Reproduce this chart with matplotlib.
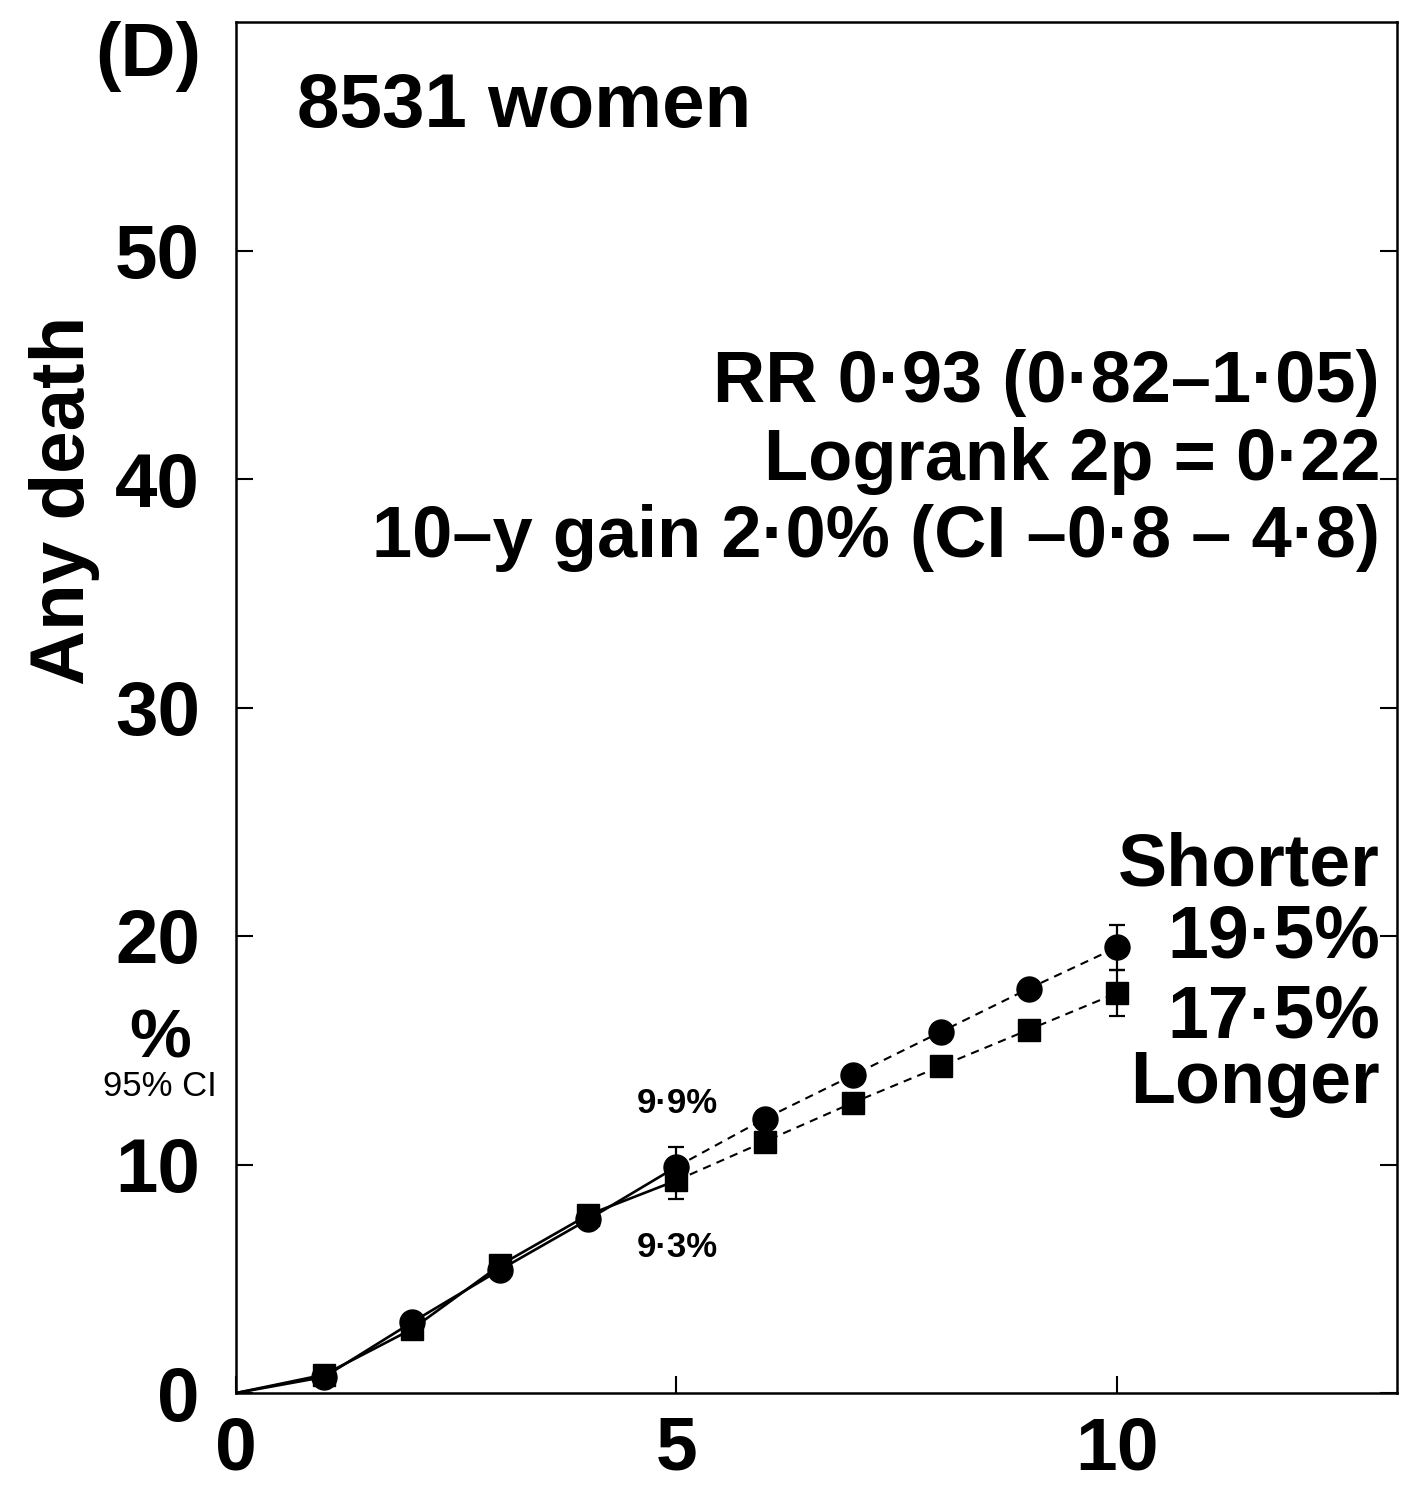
import matplotlib
matplotlib.use("Agg")
import matplotlib.pyplot as plt

plt.rcParams['font.family'] = ['Liberation Sans', 'DejaVu Sans']
plt.rcParams['font.weight'] = 'bold'

# Cumulative risk of any death (%) by year of follow-up
years = [0, 1, 2, 3, 4, 5, 6, 7, 8, 9, 10]
shorter = [0, 0.7, 3.1, 5.4, 7.6, 9.9, 12.0, 13.9, 15.8, 17.7, 19.5]
longer = [0, 0.8, 2.8, 5.6, 7.8, 9.3, 11.0, 12.7, 14.3, 15.9, 17.5]

# 95% CI half-widths shown at 5 and 10 years
ci_years = [5, 10]
shorter_ci = [0.85, 1.0]
longer_ci = [0.8, 1.0]

x_ticks = [0, 5, 10]
y_ticks = [0, 10, 20, 30, 40, 50]

W, H = 1426, 1487
fig = plt.figure(figsize=(W / 100, H / 100), dpi=100)
ax = fig.add_axes([236 / W, 1 - 1393 / H, (1397 - 236) / W, (1393 - 22) / H])
ax.set_xlim(0, 13.18)
ax.set_ylim(0, 60)

def draw_series(vals, marker, ms, ci):
    # solid over the first 5 years, dashed thereafter
    ax.plot(years[:6], vals[:6], color='black', lw=1.9, zorder=2)
    ax.plot(years[5:], vals[5:], color='black', lw=1.5, ls=(0, (4, 3)), zorder=2)
    ax.plot(years[1:], vals[1:], ls='none', marker=marker, ms=ms,
            color='black', zorder=3)
    ci_vals = [vals[years.index(y)] for y in ci_years]
    ax.errorbar(ci_years, ci_vals, yerr=ci, fmt='none', ecolor='black',
                elinewidth=1.6, capsize=6, capthick=1.6, zorder=2)

draw_series(longer, 's', 16.5, longer_ci)
draw_series(shorter, 'o', 18, shorter_ci)

for s in ax.spines.values():
    s.set_linewidth(1.8)

ax.set_xticks(x_ticks)
ax.set_yticks(y_ticks)
ax.tick_params(axis='both', direction='in', length=12, width=1.5,
               labelsize=55)
ax.tick_params(axis='y', right=True, pad=26)
ax.tick_params(axis='x', pad=16, labelsize=54)
for lab in ax.get_xticklabels() + ax.get_yticklabels():
    lab.set_fontweight('bold')

ax.set_ylabel('Any death', fontsize=55, fontweight='bold')
ax.yaxis.set_label_coords((100 - 236) / (1397 - 236), (1393 - 500) / (1393 - 22))

def fx(px):
    return px / W

def fy(py):
    return 1 - py / H

fig.text(fx(148), fy(57), '(D)', fontsize=55, fontweight='bold',
         ha='center', va='center')
fig.text(fx(297), fy(127), '8531 women', fontsize=55, fontweight='bold',
         ha='left', va='baseline')

stats = ['RR 0·93 (0·82–1·05)', 'Logrank 2p = 0·22',
         '10–y gain 2·0% (CI –0·8 – 4·8)']
for txt, py in zip(stats, [402, 480, 557]):
    fig.text(fx(1380), fy(py), txt, fontsize=52, fontweight='bold',
             ha='right', va='baseline')

ends = ['Shorter', '19·5%', '17·5%', 'Longer']
for txt, py in zip(ends, [885, 957, 1037, 1103]):
    fig.text(fx(1380), fy(py), txt, fontsize=53, fontweight='bold',
             ha='right', va='baseline')

fig.text(fx(677), fy(1113), '9·9%', fontsize=25, fontweight='bold',
         ha='center', va='baseline')
fig.text(fx(677), fy(1257), '9·3%', fontsize=25, fontweight='bold',
         ha='center', va='baseline')

fig.text(fx(160), fy(1058), '%', fontsize=50, fontweight='bold',
         ha='center', va='baseline')
fig.text(fx(160), fy(1096), '95% CI', fontsize=25, fontweight='normal',
         ha='center', va='baseline')

fig.savefig('out.png', dpi=100)
